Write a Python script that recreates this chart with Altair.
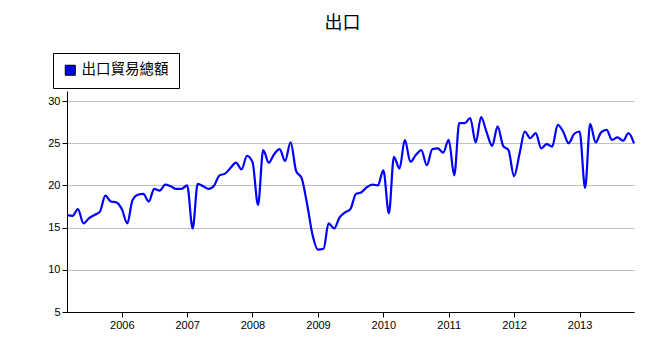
import altair as alt
import pandas as pd

series_name = "出口貿易總額"
chart_title = "出口"

# monthly values, Mar 2005 .. Nov 2013
v2005 = [16.5, 16.4, 17.2, 15.5, 16.1, 16.5, 16.9, 18.8, 18.1, 18.0]
v2006 = [17.2, 15.5, 18.2, 18.9, 19.0, 18.1, 19.6, 19.4, 20.1, 19.9, 19.6, 19.6]
v2007 = [20.0, 14.9, 20.2, 19.9, 19.6, 20.0, 21.2, 21.4, 22.1, 22.7, 21.9, 23.5]
v2008 = [22.8, 17.7, 24.2, 22.7, 23.7, 24.3, 22.9, 25.1, 21.7, 20.9, 17.8, 14.2]
v2009 = [12.4, 12.5, 15.5, 14.9, 16.2, 16.8, 17.2, 19.0, 19.2, 19.8, 20.1, 20.0]
v2010 = [21.8, 16.7, 23.4, 22.0, 25.4, 22.8, 23.6, 24.2, 22.4, 24.3, 24.4, 23.9]
v2011 = [25.4, 21.2, 27.4, 27.4, 28.0, 25.1, 28.1, 26.3, 24.7, 27.0, 24.7, 24.2]
v2012 = [21.1, 23.8, 26.4, 25.6, 26.2, 24.4, 24.9, 24.6, 27.2, 26.4, 25.0, 26.1]
v2013 = [26.4, 19.7, 27.3, 25.1, 26.3, 26.6, 25.4, 25.7, 25.3, 26.2, 25.0]

values = v2005 + v2006 + v2007 + v2008 + v2009 + v2010 + v2011 + v2012 + v2013
months = pd.date_range("2005-03-01", "2013-11-01", freq="MS").strftime("%Y-%m-%dT00:00:00").tolist()

y_ticks = [5, 10, 15, 20, 25, 30]

df = pd.DataFrame({"date": months, "value": values, "series": series_name})

x_enc = alt.X(
    "date:T",
    scale=alt.Scale(domain=[alt.DateTime(year=2005, month=3, date=1),
                            alt.DateTime(year=2013, month=11, date=1)]),
    axis=alt.Axis(format="%Y", tickCount={"interval": "year", "step": 1}, grid=False,
                  title=None, domainColor="black", tickColor="black", tickSize=5,
                  labelFont="Liberation Sans", labelFontSize=11, labelColor="black",
                  labelPadding=2),
)
y_enc = alt.Y(
    "value:Q",
    scale=alt.Scale(domain=[5, 31.2], nice=False, zero=False),
    axis=alt.Axis(values=y_ticks, grid=True, gridColor="#c0c0c0", gridWidth=1,
                  domainColor="black", tickColor="black", tickSize=5, title=None,
                  labelFont="Liberation Sans", labelFontSize=11, labelColor="black",
                  labelPadding=2),
)

line = alt.Chart(df).mark_line(color="#0000ff", strokeWidth=2.2, interpolate="monotone").encode(
    x=x_enc, y=y_enc
)

legend_layer = alt.Chart(df).mark_square(opacity=0, size=100).encode(
    x=x_enc,
    y=y_enc,
    fill=alt.Fill(
        "series:N",
        scale=alt.Scale(range=["#0000ff"]),
        legend=alt.Legend(
            orient="none", legendX=-14, legendY=-38, title=None,
            strokeColor="black", fillColor="white", padding=10,
            symbolType="square", symbolSize=100, symbolStrokeColor="black",
            symbolStrokeWidth=1, symbolOpacity=1,
            labelFont="Noto Sans CJK TC", labelFontSize=14.5, labelColor="black",
            labelOffset=4,
        ),
    ),
)

chart = alt.layer(line, legend_layer).properties(
    width=567,
    height=221,
    autosize="none",
    padding={"left": 67, "top": 91, "right": 15, "bottom": 42},
    title=alt.TitleParams(chart_title, font="Noto Sans CJK TC", fontSize=18,
                          fontWeight="normal", color="black", anchor="middle",
                          dx=-8, dy=-16),
).configure(background="white", view=alt.ViewConfig(stroke=None))

chart.save("out.html", embed_options={"renderer": "svg", "actions": False})
